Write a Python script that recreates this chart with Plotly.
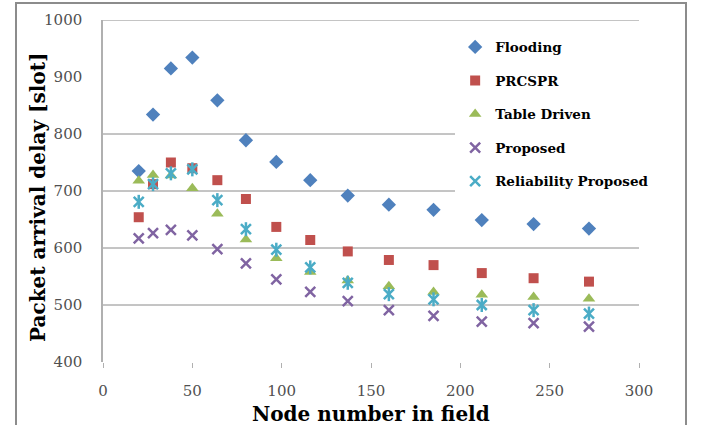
import plotly.graph_objects as go

nodes = [20, 28, 38, 50, 64, 80, 97, 116, 137, 160, 185, 212, 241, 272]
flooding = [735, 834, 915, 934, 859, 789, 751, 719, 692, 676, 667, 649, 642, 634]
prcspr = [654, 712, 750, 740, 719, 686, 637, 614, 594, 579, 570, 556, 547, 541]
table_driven = [718, 728, 727, 705, 660, 615, 582, 558, 543, 533, 523, 518, 514, 511]
proposed = [617, 626, 632, 622, 598, 573, 545, 523, 507, 491, 481, 471, 468, 462]
reliability = [681, 712, 731, 738, 684, 633, 597, 566, 539, 519, 510, 500, 491, 485]
grid_values = [500, 600, 700, 800, 1000]
x_ticks = [0, 50, 100, 150, 200, 250, 300]
y_ticks = [400, 500, 600, 700, 800, 900, 1000]

SERIF = "DejaVu Serif"

fig = go.Figure()
fig.add_trace(go.Scatter(x=nodes, y=flooding, mode="markers", name="Flooding", legendgroup="a",
                         marker=dict(symbol="diamond", size=11, color="#4F81BD")))
fig.add_trace(go.Scatter(x=nodes, y=prcspr, mode="markers", name="PRCSPR", legendgroup="b",
                         marker=dict(symbol="square", size=10, color="#C0504D")))
fig.add_trace(go.Scatter(x=nodes, y=table_driven, mode="markers", name="Table Driven", legendgroup="c",
                         marker=dict(symbol="triangle-up", size=11, color="#9BBB59")))
fig.add_trace(go.Scatter(x=nodes, y=proposed, mode="markers", name="Proposed", legendgroup="d",
                         marker=dict(symbol="x-thin-open", size=10, color="#8064A2",
                                     line=dict(width=2.5, color="#8064A2"))))
fig.add_trace(go.Scatter(x=nodes, y=reliability, mode="markers", name="Reliability Proposed", legendgroup="e",
                         marker=dict(symbol="x-thin-open", size=10, color="#4BACC6",
                                     line=dict(width=2.5, color="#4BACC6"))))
fig.add_trace(go.Scatter(x=nodes, y=reliability, mode="markers", showlegend=False, legendgroup="e",
                         marker=dict(symbol="line-ns-open", size=10, color="#4BACC6",
                                     line=dict(width=2.5, color="#4BACC6"))))

for g in grid_values:
    fig.add_shape(type="line", xref="x", yref="y", x0=0, x1=300, y0=g, y1=g,
                  line=dict(color="#8A8A8A", width=1), layer="below")

# outer chart frame
fig.add_shape(type="rect", xref="paper", yref="paper", x0=-0.1623, x1=1.0877, y0=-0.25, y1=1.0497,
              line=dict(color="#8C8C8C", width=2))

fig.add_annotation(text="Packet arrival delay [slot]", xref="paper", yref="paper",
                   x=-0.121, y=0.48, textangle=-90, showarrow=False,
                   xanchor="center", yanchor="middle",
                   font=dict(family=SERIF, size=20, color="#000000", weight="bold"))
fig.add_annotation(text="Node number in field", xref="paper", yref="paper",
                   x=0.5, y=-0.152, showarrow=False, xanchor="center", yanchor="middle",
                   font=dict(family=SERIF, size=20, color="#000000", weight="bold"))

fig.update_layout(
    width=702, height=425,
    margin=dict(l=103, r=63, t=20, b=63),
    paper_bgcolor="white", plot_bgcolor="white",
    showlegend=True,
    legend=dict(x=0.657, y=0.966, xanchor="left", yanchor="top",
                bgcolor="white", borderwidth=0, tracegroupgap=13,
                font=dict(family=SERIF, size=13.5, color="#000000", weight="bold")),
    xaxis=dict(range=[0, 300], tickvals=x_ticks, showgrid=False, zeroline=False,
               showline=False, ticks="outside", ticklen=5, tickcolor="#B0B0B0",
               ticklabelstandoff=10,
               tickfont=dict(family=SERIF, size=15, color="#505050")),
    yaxis=dict(range=[400, 1000], tickvals=y_ticks, showgrid=False, zeroline=False,
               showline=True, linecolor="#B0B0B0", linewidth=1.5, ticks="",
               ticklabelstandoff=16,
               tickfont=dict(family=SERIF, size=15, color="#505050")),
)

fig.write_html("out.html", config={"displayModeBar": False},
               post_script="document.body.style.margin='0';")
